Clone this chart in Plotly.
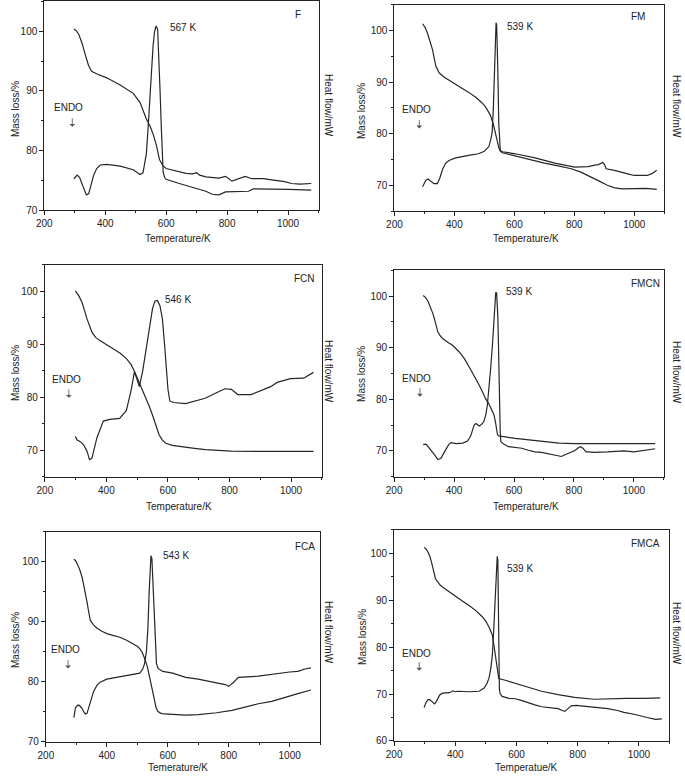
import plotly.graph_objects as go

# ---------------- data ----------------
panel_names = ["F", "FM", "FCN", "FMCN", "FCA", "FMCA"]
peak_labels = ["567 K", "539 K", "546 K", "539 K", "543 K", "539 K"]
x_titles = ["Temperature/K", "Temperature/K", "Temperature/K", "Temperature/K",
            "Temerature/K", "Temperatue/K"]
x_tickvals = [200, 400, 600, 800, 1000]

# F
F_mass_T = [297, 305, 313, 324, 335, 345, 355, 375, 405, 449, 492, 514, 535, 548, 557, 568, 578, 589, 600,
            643, 665, 686, 700, 710, 730, 773, 795, 816, 838, 859, 881, 920, 946, 970, 989, 1011, 1040, 1076]
F_mass = [100.4, 100.1, 99.5, 98.0, 96.0, 94.3, 93.3, 92.8, 92.2, 91.0, 89.6, 88.1, 85.3, 84.0, 82.8, 80.9, 78.5,
          77.5, 77.0, 76.5, 76.2, 76.1, 76.3, 75.9, 75.6, 75.4, 75.7, 74.9, 75.3, 75.7, 75.3, 75.3, 75.1, 75.0,
          74.8, 74.5, 74.4, 74.5]
F_heat_T = [297, 308, 316, 324, 332, 338, 346, 354, 362, 372, 384, 405, 449, 492, 505, 514, 524, 530, 535, 541,
            546, 552, 557, 562, 567, 572, 576, 580, 584, 587, 590, 595, 600, 643, 686, 730, 751, 773, 795, 838,
            870, 886, 946, 1000, 1076]
F_heat = [75.3, 75.9, 75.5, 74.5, 73.2, 72.6, 72.8, 74.5, 75.9, 77.0, 77.6, 77.7, 77.4, 76.8, 76.3, 76.0, 76.3,
          77.8, 79.5, 84.0, 88.7, 94.0, 97.5, 100.0, 100.9, 100.3, 96.0, 90.0, 84.0, 79.0, 76.5, 75.5, 75.2,
          74.5, 73.9, 73.2, 72.7, 72.6, 73.1, 73.1, 73.2, 73.6, 73.6, 73.5, 73.4]

# FM
FM_mass_T = [294, 302, 310, 318, 327, 338, 349, 365, 382, 404, 426, 448, 470, 490, 504, 520, 530, 537, 543, 548,
             553, 560, 600, 650, 700, 750, 790, 820, 850, 880, 910, 935, 960, 1000, 1040, 1075]
FM_mass = [101.3, 100.6, 99.5, 98.0, 96.3, 93.1, 91.8, 91.0, 90.4, 89.5, 88.8, 88.0, 87.1, 86.1, 85.2, 83.6, 81.8,
           80.3, 78.6, 77.3, 76.6, 76.3, 75.7, 75.0, 74.3, 73.7, 73.2, 72.6, 71.8, 70.9, 70.0, 69.5, 69.3, 69.3,
           69.4, 69.2]
FM_heat_T = [294, 300, 305, 312, 320, 332, 343, 352, 360, 370, 382, 404, 448, 480, 500, 515, 522, 526, 530, 534,
             537, 539, 541, 543, 545, 548, 550, 553, 560, 603, 669, 735, 801, 846, 868, 880, 895, 901, 906, 934,
             978, 1000, 1044, 1060, 1075]
FM_heat = [69.7, 70.6, 71.0, 71.2, 70.8, 70.3, 70.3, 71.5, 73.0, 74.2, 74.8, 75.3, 75.8, 76.1, 76.6, 77.5, 79.0,
           80.3, 85.0, 93.0, 99.0, 101.5, 101.0, 98.0, 92.0, 82.0, 78.5, 76.8, 76.5, 76.1, 75.3, 74.3, 73.5, 73.6,
           73.9, 74.0, 74.4, 74.0, 73.2, 72.9, 72.2, 71.9, 71.9, 72.3, 72.9]

# FCN
FCN_mass_T = [299, 310, 321, 337, 353, 365, 379, 400, 422, 445, 465, 480, 491, 500, 507, 518, 529, 540, 550, 561,
              571, 582, 593, 614, 635, 680, 721, 760, 806, 900, 1000, 1073]
FCN_mass = [100.1, 99.2, 97.9, 94.8, 92.3, 91.3, 90.7, 89.9, 89.1, 88.3, 87.3, 86.2, 84.9, 83.7, 82.9, 81.4, 79.8,
            78.2, 76.6, 74.7, 72.9, 71.9, 71.3, 70.9, 70.7, 70.4, 70.1, 69.9, 69.8, 69.75, 69.75, 69.75]
FCN_heat_T = [299, 305, 315, 326, 337, 345, 353, 369, 390, 411, 443, 465, 481, 491, 499, 507, 518, 529, 541, 550,
              558, 566, 574, 582, 589, 595, 600, 606, 619, 657, 721, 763, 785, 806, 827, 870, 934, 955, 998, 1041,
              1073]
FCN_heat = [72.6, 71.9, 71.6, 71.0, 69.8, 68.2, 68.5, 72.3, 75.5, 75.8, 76.0, 77.5, 81.5, 84.8, 83.5, 82.0, 85.0,
            89.0, 94.0, 96.8, 98.2, 98.3, 97.3, 94.8, 90.0, 85.0, 81.5, 79.3, 79.0, 78.8, 79.8, 81.0, 81.6, 81.5,
            80.5, 80.5, 82.0, 82.8, 83.5, 83.6, 84.7]

# FMCN
FMCN_mass_T = [297, 305, 313, 322, 330, 338, 346, 355, 363, 380, 396, 418, 435, 451, 468, 484, 495, 505, 516, 527,
               533, 538, 542, 545, 549, 575, 604, 650, 692, 750, 802, 860, 912, 980, 1071]
FMCN_mass = [100.1, 99.7, 99.0, 97.8, 96.5, 94.8, 93.0, 92.2, 91.7, 91.0, 90.4, 89.1, 87.8, 86.2, 84.5, 82.7, 81.4,
             80.1, 79.1, 77.9, 77.0, 75.6, 74.3, 73.1, 72.9, 72.6, 72.4, 72.1, 71.8, 71.5, 71.4, 71.4, 71.5, 71.5,
             71.4]
FMCN_heat_T = [297, 303, 308, 319, 327, 335, 341, 346, 351, 357, 365, 374, 382, 390, 407, 429, 445, 455, 461, 467,
               473, 478, 484, 489, 495, 500, 506, 511, 517, 522, 528, 533, 536, 539, 542, 544, 546, 548, 550, 552,
               554, 556, 565, 582, 604, 626, 648, 670, 692, 714, 736, 758, 768, 780, 802, 815, 822, 830, 840, 846,
               868, 912, 967, 1000, 1044, 1071]
FMCN_heat = [71.2, 71.3, 71.2, 70.5, 69.8, 69.2, 68.6, 68.3, 68.4, 68.6, 69.5, 70.5, 71.2, 71.6, 71.4, 71.5, 71.9,
             72.8, 73.8, 75.0, 75.3, 75.0, 74.8, 75.0, 75.3, 75.8, 77.0, 78.8, 82.0, 85.9, 90.5, 95.5, 98.5, 100.6,
             100.6, 99.0, 96.0, 91.0, 84.0, 78.0, 73.5, 71.8, 71.3, 70.8, 70.6, 70.5, 70.1, 69.8, 69.7, 69.4, 69.2,
             68.9, 69.2, 69.5, 70.0, 70.6, 70.8, 70.5, 69.8, 69.8, 69.7, 69.8, 70.0, 69.8, 70.1, 70.4]

# FCA
FCA_mass_T = [292, 297, 303, 311, 319, 327, 335, 340, 346, 357, 368, 384, 400, 420, 443, 465, 486, 500, 508, 516,
              524, 533, 541, 549, 557, 562, 568, 578, 589, 620, 659, 700, 724, 760, 811, 850, 897, 941, 984, 1027,
              1070]
FCA_mass = [100.4, 100.2, 99.6, 98.7, 97.4, 95.5, 93.3, 91.8, 90.2, 89.4, 88.9, 88.4, 88.0, 87.7, 87.4, 86.9, 86.3,
            85.9, 85.5, 84.9, 83.9, 82.5, 80.6, 78.5, 76.7, 75.6, 75.0, 74.7, 74.6, 74.5, 74.4, 74.5, 74.6, 74.8,
            75.2, 75.7, 76.3, 76.7, 77.4, 78.0, 78.6]
FCA_heat_T = [292, 297, 303, 308, 314, 319, 325, 330, 335, 340, 346, 352, 357, 368, 378, 400, 443, 486, 508, 518,
              524, 530, 535, 539, 542, 545, 548, 551, 555, 559, 563, 568, 584, 616, 659, 700, 724, 760, 789, 800,
              816, 832, 897, 962, 1000, 1027, 1050, 1070]
FCA_heat = [74.0, 75.6, 76.0, 76.1, 75.8, 75.5, 74.9, 74.6, 74.7, 75.5, 76.5, 77.5, 78.4, 79.4, 79.9, 80.4, 80.8,
            81.1, 81.4, 82.1, 83.0, 85.0, 89.0, 95.0, 99.5, 101.0, 100.5, 97.0, 91.0, 86.0, 83.0, 82.2, 81.7, 81.4,
            80.7, 80.4, 80.2, 79.8, 79.5, 79.2, 79.9, 80.7, 80.9, 81.4, 81.6, 81.7, 82.1, 82.3]

# FMCA
FMCA_mass_T = [298, 305, 311, 316, 322, 327, 335, 343, 351, 359, 380, 402, 424, 445, 467, 488, 500, 510, 516, 521,
               526, 530, 534, 537, 540, 542, 560, 596, 640, 682, 736, 790, 854, 900, 960, 1020, 1070]
FMCA_mass = [101.3, 100.9, 100.2, 99.5, 98.2, 96.7, 94.6, 93.9, 93.2, 92.8, 91.8, 90.7, 89.8, 88.9, 87.8, 86.5,
             85.5, 84.3, 83.3, 82.6, 80.5, 78.5, 76.5, 75.0, 74.0, 73.3, 73.0, 72.3, 71.4, 70.6, 69.9, 69.3, 68.9,
             69.0, 69.1, 69.1, 69.2]
FMCA_heat_T = [298, 304, 311, 316, 322, 328, 332, 338, 349, 359, 381, 392, 400, 408, 445, 478, 494, 503, 510, 516,
               521, 525, 529, 533, 537, 539, 540, 541, 542, 543, 544, 547, 553, 575, 596, 618, 639, 660, 682, 710,
               736, 750, 758, 768, 779, 795, 811, 854, 898, 930, 951, 984, 1000, 1027, 1054, 1075]
FMCA_heat = [67.1, 68.2, 68.8, 68.8, 68.5, 68.0, 67.9, 68.4, 69.8, 70.2, 70.3, 70.7, 70.5, 70.6, 70.5, 70.6, 71.3,
             72.2, 73.4, 75.5, 78.3, 83.0, 88.9, 94.5, 99.4, 98.5, 93.0, 86.0, 80.0, 74.0, 71.0, 70.0, 69.5, 69.1,
             69.0, 68.6, 68.1, 67.7, 67.3, 67.1, 66.9, 66.5, 66.3, 66.9, 67.5, 67.6, 67.5, 67.2, 66.9, 66.5, 66.1,
             65.7, 65.4, 65.0, 64.6, 64.7]

mass_T = [F_mass_T, FM_mass_T, FCN_mass_T, FMCN_mass_T, FCA_mass_T, FMCA_mass_T]
mass = [F_mass, FM_mass, FCN_mass, FMCN_mass, FCA_mass, FMCA_mass]
heat_T = [F_heat_T, FM_heat_T, FCN_heat_T, FMCN_heat_T, FCA_heat_T, FMCA_heat_T]
heat = [F_heat, FM_heat, FCN_heat, FMCN_heat, FCA_heat, FMCA_heat]

y_ranges = [[70, 105], [65, 105], [65, 105], [65, 105], [70, 105], [60, 105]]
# peak label anchor (data coords), panel name anchor, ENDO anchor, arrow head position
peak_pos = [(605, 100.6), (570, 100.8), (583, 98.5), (566, 100.8), (578, 101.1), (564, 96.8)]
name_pos = [(1016, 102.8), (983, 102.7), (1003, 102.4), (983, 102.4), (1011, 102.5), (967, 102.1)]
endo_pos = [(281, 87.3), (273, 84.6), (270, 83.4), (276, 84.0), (264, 85.3), (272, 78.7)]
arrow_pos = [(292, 84.0), (283, 81.0), (278, 79.9), (286, 80.5), (273, 82.2), (282, 75.0)]

# ---------------- layout geometry (pixels) ----------------
W, H = 685, 780
px_x = [(36.7, 314.2), (391.0, 664.0), (37.3, 317.5), (390.7, 663.6), (38.3, 315.8), (390.7, 669.3)]
px_y = [(1.4, 212.0), (4.7, 212.7), (267.0, 480.3), (272.3, 480.3), (535.8, 747.3), (534.1, 746.7)]
mass_title_pos = [(7, 110), (357, 112), (7, 376), (357, 377), (7, 645), (358, 642)]
heat_title_pos = [(325, 106), (677, 107), (325, 374), (677, 375), (325, 637), (677, 638)]
xt_pos = [(172, 240), (524, 240), (173, 510), (524, 510), (172, 773), (525, 773)]

FONT = "Liberation Sans, Arial, Helvetica, sans-serif"
FS = 10
LC = "#262626"

fig = go.Figure()
layout = dict(
    width=W, height=H, margin=dict(l=0, r=0, t=0, b=0),
    paper_bgcolor="white", plot_bgcolor="white", showlegend=False,
    font=dict(family=FONT, size=FS, color="#222"),
)
annotations = []

for i in range(6):
    k = i + 1
    xa = "x" if k == 1 else f"x{k}"
    ya = "y" if k == 1 else f"y{k}"
    fig.add_trace(go.Scatter(x=mass_T[i], y=mass[i], mode="lines", xaxis=xa, yaxis=ya,
                             line=dict(color=LC, width=1.2), name="Mass loss"))
    fig.add_trace(go.Scatter(x=heat_T[i], y=heat[i], mode="lines", xaxis=xa, yaxis=ya,
                             line=dict(color=LC, width=1.2), name="Heat flow"))
    x0, x1 = px_x[i]
    yt, yb = px_y[i]
    axis_common = dict(showgrid=False, zeroline=False, showline=True, linecolor="#222", linewidth=1,
                       mirror=True, ticks="outside", ticklen=4, tickwidth=1, tickcolor="#222",
                       tickfont=dict(family=FONT, size=FS, color="#222"))
    layout["xaxis" if k == 1 else f"xaxis{k}"] = dict(
        domain=[x0 / W, x1 / W], anchor=ya, range=[200, 1100],
        tickvals=x_tickvals, minor=dict(dtick=100, tick0=0, ticklen=2, ticks="outside", tickcolor="#222"),
        **axis_common)
    layout["yaxis" if k == 1 else f"yaxis{k}"] = dict(
        domain=[1 - yb / H, 1 - yt / H], anchor=xa, range=y_ranges[i], tick0=0, dtick=10,
        minor=dict(dtick=5, tick0=0, ticklen=2, ticks="outside", tickcolor="#222"),
        **axis_common)
    # in-plot labels
    annotations.append(dict(x=peak_pos[i][0], y=peak_pos[i][1], xref=xa, yref=ya, text=peak_labels[i],
                            showarrow=False, xanchor="left", yanchor="middle", font=dict(size=FS)))
    annotations.append(dict(x=name_pos[i][0], y=name_pos[i][1], xref=xa, yref=ya, text=panel_names[i],
                            showarrow=False, xanchor="left", yanchor="middle", font=dict(size=FS)))
    annotations.append(dict(x=endo_pos[i][0], y=endo_pos[i][1], xref=xa, yref=ya, text="ENDO",
                            showarrow=False, xanchor="center", yanchor="middle", font=dict(size=FS)))
    annotations.append(dict(x=arrow_pos[i][0], y=arrow_pos[i][1], xref=xa, yref=ya, text="",
                            showarrow=True, ax=0, ay=-10, arrowhead=1, arrowsize=1.2, arrowwidth=0.8,
                            arrowcolor="#555"))
    # axis titles
    annotations.append(dict(x=mass_title_pos[i][0] / W, y=1 - mass_title_pos[i][1] / H, xref="paper",
                            yref="paper", text="Mass loss/%", textangle=-90, showarrow=False,
                            xanchor="center", yanchor="middle", font=dict(size=FS)))
    annotations.append(dict(x=heat_title_pos[i][0] / W, y=1 - heat_title_pos[i][1] / H, xref="paper",
                            yref="paper", text="Heat flow/mW", textangle=90, showarrow=False,
                            xanchor="center", yanchor="middle", font=dict(size=FS)))
    annotations.append(dict(x=xt_pos[i][0] / W, y=1 - xt_pos[i][1] / H, xref="paper", yref="paper",
                            text=x_titles[i], showarrow=False, xanchor="center", yanchor="middle",
                            font=dict(size=FS)))

layout["annotations"] = annotations
fig.update_layout(**layout)
fig.write_html("out.html", config={"displayModeBar": False},
               post_script="document.body.style.margin='0px';")
